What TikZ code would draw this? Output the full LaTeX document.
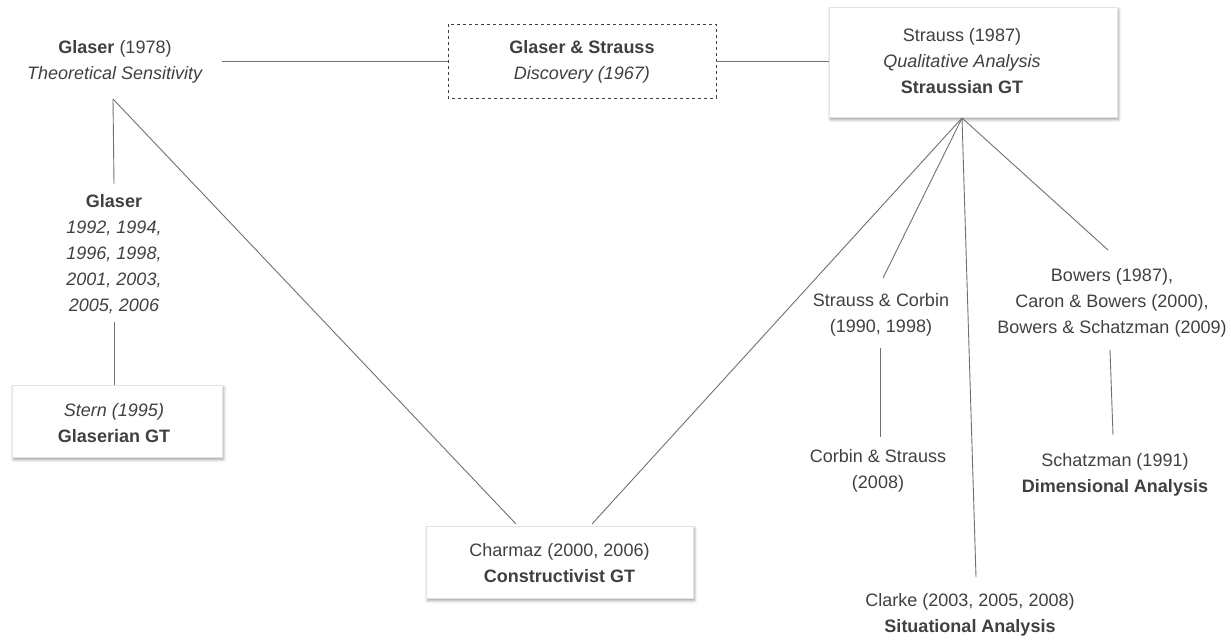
\documentclass[tikz,border=0pt]{standalone}
\usepackage{fontspec}
\setmainfont{Liberation Sans}
\usetikzlibrary{shadows.blur}
\definecolor{ink}{HTML}{404040}
\definecolor{wire}{HTML}{707070}
\begin{document}
\begin{tikzpicture}[x=1pt,y=-1pt,
  every node/.style={text=ink,font=\fontsize{18}{26}\selectfont,align=center,inner sep=0pt},
  wirestyle/.style={draw=wire,line width=0.9pt},
  workbox/.style={draw=gray!22,fill=white,line width=0.6pt,
    blur shadow={shadow xshift=1.5pt,shadow yshift=-2.5pt,shadow blur radius=3pt,shadow opacity=40}},
  origbox/.style={draw=ink,dashed,line width=0.8pt,fill=white}]
\useasboundingbox (0,0) rectangle (1231,642);

% boxes
\path[origbox] (448,24) rectangle (716,98);
\path[workbox] (829,7) rectangle (1117,117);
\path[workbox] (12,385) rectangle (222,457);
\path[workbox] (426,526) rectangle (693,598);

% box outlines as named nodes
\node (gsbox) [minimum width=268pt,minimum height=74pt] at (582,61) {};
\node (strbox) [minimum width=288pt,minimum height=110pt] at (973,62) {};
\node (sternbox) [minimum width=210pt,minimum height=72pt] at (117,421) {};
\node (chbox) [minimum width=267pt,minimum height=72pt] at (559.5,562) {};

% texts
\node (glaser78) at (115,62) {\textbf{Glaser} (1978)\\\textit{Theoretical Sensitivity}};
\node (gs67) at (582,62) {\textbf{Glaser \& Strauss}\\\textit{Discovery (1967)}};
\node (str87) at (962,61.5) {Strauss (1987)\\\textit{Qualitative Analysis}\\\textbf{Straussian GT}};
\node (glaser92) at (114,254.5) {\textbf{Glaser}\\\textit{1992, 1994,}\\\textit{1996, 1998,}\\\textit{2001, 2003,}\\\textit{2005, 2006}};
\node (stern) at (114,423.5) {\textit{Stern (1995)}\\\textbf{Glaserian GT}};
\node (charmaz) at (559.5,563.5) {Charmaz (2000, 2006)\\\textbf{Constructivist GT}};
\node (sc90) at (881,315) {Strauss \& Corbin\\(1990, 1998)};
\node (cs08) at (878,471) {Corbin \& Strauss\\(2008)};
\node (clarke) at (970,615) {Clarke (2003, 2005, 2008)\\\textbf{Situational Analysis}};
\node (bowers) at (1112,303) {Bowers (1987),\\Caron \& Bowers (2000),\\Bowers \& Schatzman (2009)};
\node (schatz) at (1115,475) {Schatzman (1991)\\\textbf{Dimensional Analysis}};

% connector end points
\coordinate (gapex) at (113,99);
\coordinate (gright) at (222,61);
\coordinate (g92top) at (114,184);
\coordinate (g92bot) at (114,322);
\coordinate (sternTop) at (114,385);
\coordinate (sapex) at (962,118);
\coordinate (chL) at (516,524);
\coordinate (chR) at (592,524);
\coordinate (scTop) at (883,278);
\coordinate (scBot) at (880,348);
\coordinate (csTop) at (880,437);
\coordinate (clTop) at (976,577);
\coordinate (bwTop) at (1108,250);
\coordinate (bwBot) at (1110,350);
\coordinate (szTop) at (1113,435);

% connectors
\draw[wirestyle] (gright) -- (gsbox.west);
\draw[wirestyle] (gsbox.east) -- (strbox.west |- gsbox.east);
\draw[wirestyle] (gapex) -- (g92top);
\draw[wirestyle] (gapex) -- (chL);
\draw[wirestyle] (g92bot) -- (sternTop);
\draw[wirestyle] (sapex) -- (chR);
\draw[wirestyle] (sapex) -- (scTop);
\draw[wirestyle] (sapex) -- (clTop);
\draw[wirestyle] (sapex) -- (bwTop);
\draw[wirestyle] (scBot) -- (csTop);
\draw[wirestyle] (bwBot) -- (szTop);
\end{tikzpicture}
\end{document}
